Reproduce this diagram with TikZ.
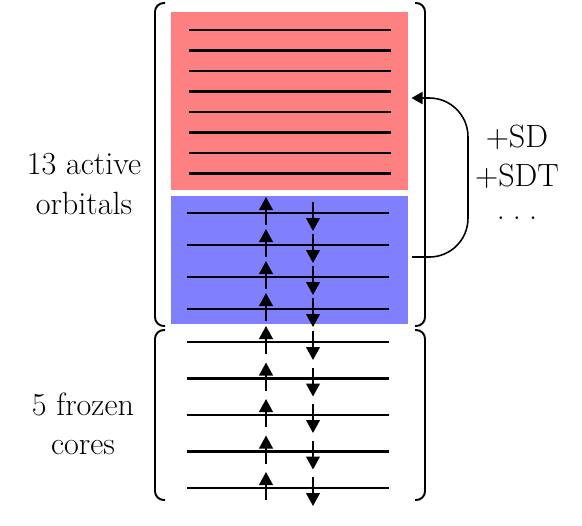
\documentclass[tikz,border=0pt]{standalone}
\usetikzlibrary{arrows.meta,calc,positioning}
\definecolor{virtred}{RGB}{255,128,128}
\definecolor{occblue}{RGB}{128,128,255}
\tikzset{
  orbital/.style   = {line width=1.2pt},
  spin/.style      = {-{Triangle[length=7.4pt,width=7.8pt]}, line width=1.1pt},
  bracket/.style   = {line width=1.1pt, rounded corners=5pt},
  excite/.style    = {-{Triangle[length=6.4pt,width=7pt]}, line width=0.9pt, rounded corners=22pt},
  block/.style     = {inner sep=0pt, outer sep=0pt, minimum width=4.74cm},
  sidelabel/.style = {font=\fontsize{18.3}{22.5}\selectfont, align=center, inner sep=0pt},
}

\begin{document}
\begin{tikzpicture}[x=0.02cm, y=-0.02cm]
  \useasboundingbox (0,0) rectangle (582,525);
  % ---- orbital blocks ----------------------------------------------------
  \node[block, fill=virtred, minimum height=3.56cm] (virt) at (289.5,101) {};
  \node[block, fill=occblue, minimum height=2.56cm] (occ) at (289.5,260) {};

  % ---- empty levels ------------------------------------------------------
  \foreach \i in {0,...,7}
    \draw[orbital] (189,{30+20.5*\i}) -- (391,{30+20.5*\i});

  % ---- filled levels with up/down spins ----------------------------------
  \foreach \y in {213,245,277,309,342,378.5,415,451.5,488} {
    \draw[orbital] (187,\y) -- (389,\y);
    \draw[spin] (266,{\y+12}) -- (266,{\y-16});
    \draw[spin] (313,{\y-11}) -- (313,{\y+18});
  }

  % ---- brackets ----------------------------------------------------------
  \draw[bracket] (165,3) -| (155,326) -- (165,326);
  \draw[bracket] (165,330) -| (155,500) -- (165,500);
  \draw[bracket] (415,3) -| (425,326) -- (415,326);
  \draw[bracket] (415,330) -| (425,500) -- (415,500);

  % ---- labels ------------------------------------------------------------
  \node[sidelabel] (active) at (84,184) {13 active\\orbitals};
  \node[sidelabel] (frozen) at (83,424) {5 frozen\\cores};
  \node[sidelabel] (excit) at (517,172) {+SD\\+SDT\\[-4pt].\hspace{0.25em}.\hspace{0.25em}.};

  % ---- excitation arrow --------------------------------------------------
  \draw[excite] ([xshift=2.3pt,yshift=1.7pt]occ.east)
     -| ($(virt.east)+(60,-3)$) -- ([xshift=2pt,yshift=1.7pt]virt.east);
\end{tikzpicture}
\end{document}
